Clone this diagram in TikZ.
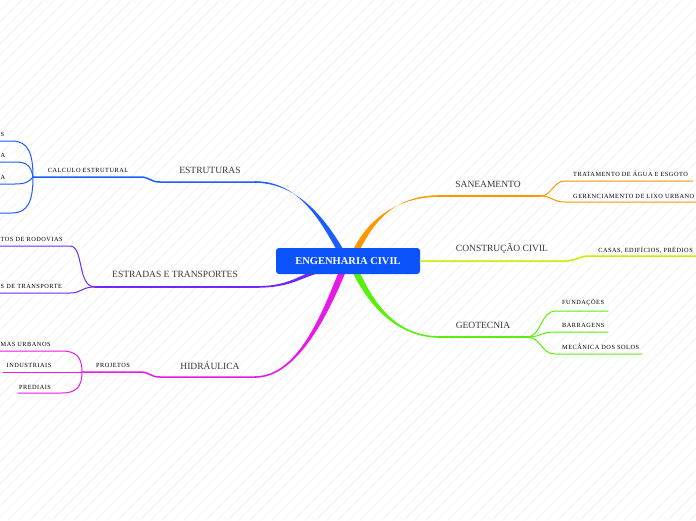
\documentclass[tikz,border=0pt]{standalone}
\usepackage{fontspec}
\setmainfont{Liberation Serif}
\newfontfamily\leaffont[LetterSpace=8]{Liberation Serif}
\usepackage{tikz}
\usetikzlibrary{calc}
\usepackage{xcolor}
\definecolor{rootblue}{RGB}{10,82,250}
\definecolor{estblue}{RGB}{28,92,255}
\definecolor{roadviolet}{RGB}{112,40,250}
\definecolor{hydromag}{RGB}{232,24,232}
\definecolor{sanorange}{RGB}{255,150,0}
\definecolor{buildlime}{RGB}{200,238,0}
\definecolor{geogreen}{RGB}{88,240,10}

\begin{document}
\begin{tikzpicture}[x=1pt, y=-1pt, line cap=round,
  root/.style={fill=rootblue, rounded corners=3pt, text=white, inner sep=0pt,
    font=\fontsize{10.5}{12}\selectfont\bfseries, minimum width=144pt, minimum height=26pt},
  topic/.style={font=\fontsize{9.5}{11}\selectfont, text=black!78, inner sep=0pt},
  leaf/.style={font=\leaffont\fontsize{6.3}{7}\selectfont, inner sep=0pt},
  limb/.style={line width=1.5pt},
  twig/.style={line width=1pt},
  hatch/.style={black!4, line width=0.8pt}]
  \useasboundingbox (0,0) rectangle (696,520);
  \fill[white] (0,0) rectangle (696,520);
  % faint paper hatching
  \begin{scope}
    \clip (0,0) rectangle (696,520);
    \foreach \i in {-520,-509,...,700}
      \draw[hatch] (\i,520) -- ++(520,-520);
  \end{scope}

  % ESTRUTURAS
  \coordinate (est0) at (343,255);
  \coordinate (estA) at (255,182);
  \coordinate (estB) at (160,182);
  \coordinate (estC) at (140,177);
  \coordinate (estJ) at (33,177);
  \coordinate (estL1) at (12,141);
  \coordinate (estL2) at (15,162);
  \coordinate (estL3) at (15,184);
  \coordinate (estL4) at (12,213);
  \fill[estblue] ([yshift=0.8pt]estA) .. controls +(45,0) and +(-18,-32) .. ([xshift=-3.5pt]est0)
    -- ([xshift=3.5pt]est0) .. controls +(-18,-32) and +(45,0) .. ([yshift=-0.8pt]estA) -- cycle;
  \draw[limb, estblue] (estA) -- (estB) .. controls +(-10,0) and +(10,0) .. (estC) -- (estJ);
  \draw[twig, estblue] (estJ) .. controls +(0,-24) and +(16,0) .. (estL1) -- (-3,141);
  \draw[twig, estblue] (estJ) .. controls +(-2,-11) and +(12,0) .. (estL2) -- (-3,162);
  \draw[twig, estblue] (estJ) .. controls +(-4,5) and +(10,0) .. (estL3) -- (-3,184);
  \draw[twig, estblue] (estJ) .. controls +(0,24) and +(16,0) .. (estL4) -- (-3,213);
  \node[topic] (estruturas) at (210,170) {ESTRUTURAS};
  \node[leaf] (calculo) at (88,170) {CALCULO ESTRUTURAL};
  \node[leaf, anchor=west] (estS) at (0.5,134) {S};
  \node[leaf, anchor=west] (estAa) at (0.5,155) {A};
  \node[leaf, anchor=west] (estAb) at (0.5,177) {A};

  % ESTRADAS E TRANSPORTES
  \coordinate (estr0) at (330,268);
  \coordinate (estrA) at (255,287);
  \coordinate (estrJ) at (95,287);
  \coordinate (estrL1) at (70,246);
  \coordinate (estrL2) at (70,293);
  \fill[roadviolet] ([yshift=0.8pt]estrA) .. controls +(40,0) and +(-30,6) .. ([yshift=2.2pt]estr0)
    -- ([yshift=-2.2pt]estr0) .. controls +(-30,6) and +(40,0) .. ([yshift=-0.8pt]estrA) -- cycle;
  \draw[limb, roadviolet] (estrA) -- (estrJ);
  \draw[twig, roadviolet] (estrJ) .. controls +(-18,0) and +(14,0) .. (estrL1) -- (-3,246);
  \draw[twig, roadviolet] (estrJ) .. controls +(-14,0) and +(12,0) .. (estrL2) -- (-3,293);
  \node[topic] (estradas) at (175,274) {ESTRADAS E TRANSPORTES};
  \node[leaf, anchor=west] (rodovias) at (0.5,239) {TOS DE RODOVIAS};
  \node[leaf, anchor=west] (transporte) at (0.5,286) {S DE TRANSPORTE};

  % HIDRAULICA
  \coordinate (hid0) at (343,270);
  \coordinate (hidA) at (255,377);
  \coordinate (hidB) at (160,377);
  \coordinate (hidC) at (140,372);
  \coordinate (hidJ) at (82,372);
  \coordinate (hidL1) at (62,351);
  \coordinate (hidL2) at (3,372);
  \coordinate (hidL3) at (62,393);
  \fill[hydromag] ([yshift=0.8pt]hidA) .. controls +(45,0) and +(-15,36) .. ([xshift=-3.5pt]hid0)
    -- ([xshift=3.5pt]hid0) .. controls +(-15,36) and +(45,0) .. ([yshift=-0.8pt]hidA) -- cycle;
  \draw[limb, hydromag] (hidA) -- (hidB) .. controls +(-10,0) and +(10,0) .. (hidC) -- (hidJ);
  \draw[twig, hydromag] (hidJ) .. controls +(0,-15) and +(14,0) .. (hidL1) -- (-3,351);
  \draw[twig, hydromag] (hidJ) -- (hidL2);
  \draw[twig, hydromag] (hidJ) .. controls +(0,15) and +(14,0) .. (hidL3) -- (18,393);
  \node[topic] (hidraulica) at (210,365) {HIDRÁULICA};
  \node[leaf] (projetos) at (113,365) {PROJETOS};
  \node[leaf, anchor=west] (urbanos) at (0.5,344) {MAS URBANOS};
  \node[leaf] (industriais) at (29,365) {INDUSTRIAIS};
  \node[leaf] (prediais) at (35,387) {PREDIAIS};

  % SANEAMENTO
  \coordinate (san0) at (355,253);
  \coordinate (sanA) at (440,196);
  \coordinate (sanJ) at (540,196);
  \coordinate (sanL1) at (565,181);
  \coordinate (sanL2) at (565,202);
  \fill[sanorange] ([yshift=0.8pt]sanA) .. controls +(-45,0) and +(15,-32) .. ([xshift=3.5pt]san0)
    -- ([xshift=-3.5pt]san0) .. controls +(15,-32) and +(-45,0) .. ([yshift=-0.8pt]sanA) -- cycle;
  \draw[limb, sanorange] (sanA) -- (sanJ);
  \draw[twig, sanorange] (sanJ) .. controls +(12,0) and +(-12,0) .. (sanL1) -- (693,181);
  \draw[twig, sanorange] (sanJ) .. controls +(12,0) and +(-12,0) .. (sanL2) -- (699,202);
  \node[topic] (saneamento) at (488,184) {SANEAMENTO};
  \node[leaf, anchor=west] (tratamento) at (573,174) {TRATAMENTO DE ÁGUA E ESGOTO};
  \node[leaf, anchor=west] (lixo) at (573,196) {GERENCIAMENTO DE LIXO URBANO};

  % GEOTECNIA
  \coordinate (geo0) at (355,270);
  \coordinate (geoA) at (440,337);
  \coordinate (geoJ) at (527,337);
  \coordinate (geoL1) at (555,311);
  \coordinate (geoL2) at (555,332);
  \coordinate (geoL3) at (555,354);
  \fill[geogreen] ([yshift=0.8pt]geoA) .. controls +(-45,0) and +(15,32) .. ([xshift=3.5pt]geo0)
    -- ([xshift=-3.5pt]geo0) .. controls +(15,32) and +(-45,0) .. ([yshift=-0.8pt]geoA) -- cycle;
  \draw[limb, geogreen] (geoA) -- (geoJ);
  \draw[twig, geogreen] (geoJ) .. controls +(14,0) and +(-14,0) .. (geoL1) -- (608,311);
  \draw[twig, geogreen] (geoJ) .. controls +(14,0) and +(-14,0) .. (geoL2) -- (608,332);
  \draw[twig, geogreen] (geoJ) .. controls +(14,0) and +(-14,0) .. (geoL3) -- (642,354);
  \node[topic] (geotecnia) at (483,325) {GEOTECNIA};
  \node[leaf, anchor=west] (fundacoes) at (562,303) {FUNDAÇÕES};
  \node[leaf, anchor=west] (barragens) at (562,325) {BARRAGENS};
  \node[leaf, anchor=west] (mecanica) at (562,347) {MECÂNICA DOS SOLOS};

  % central topic
  \node[root] (root) at (348,261) {ENGENHARIA CIVIL};

  % CONSTRUCAO CIVIL
  \coordinate (conB) at (565,261);
  \coordinate (conC) at (590,256);
  \draw[limb, buildlime] (root.east) -- (conB) .. controls +(12,0) and +(-12,0) .. (conC) -- (699,256);
  \node[topic] (construcao) at (502,249) {CONSTRUÇÃO CIVIL};
  \node[leaf, anchor=east] (casas) at (693,250) {CASAS, EDIFÍCIOS, PRÉDIOS};
\end{tikzpicture}
\end{document}
